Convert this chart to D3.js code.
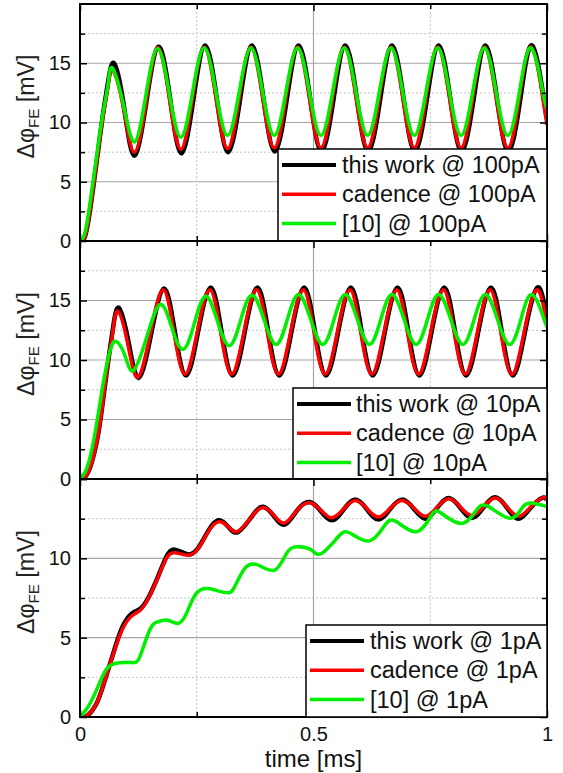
<!DOCTYPE html>
<html>
<head>
<meta charset="utf-8">
<script src="https://cdn.jsdelivr.net/npm/d3@7"></script>
<style>
  html, body { margin: 0; padding: 0; background: #fff; }
  svg { display: block; font-family: Arial, "Liberation Sans", sans-serif; }
</style>
</head>
<body>
<svg id="chart" width="563" height="773"></svg>
<script>
// series are [time in ms, value in mV]
const p1Black = [[0,0],[0.01,0.3],[0.02,2.2],[0.03,5.0],[0.04,8.0],[0.05,10.9],[0.06,13.4],[0.073,15.0],[0.094,11.4],[0.116,7.2],[0.142,11.7],[0.168,16.4],[0.193,12.0],[0.217,7.4],[0.243,12.0],[0.268,16.5],[0.293,12.0],[0.317,7.5],[0.343,12.0],[0.368,16.5],[0.393,12.0],[0.417,7.55],[0.443,12.0],[0.468,16.5],[0.493,12.0],[0.517,7.55],[0.543,12.0],[0.568,16.5],[0.593,12.0],[0.617,7.55],[0.643,12.0],[0.668,16.5],[0.693,12.0],[0.717,7.55],[0.743,12.0],[0.768,16.5],[0.793,12.0],[0.817,7.55],[0.843,12.0],[0.868,16.5],[0.893,12.0],[0.917,7.55],[0.943,12.0],[0.968,16.5],[0.993,12.0],[1.0,10.3]];
const p1Red = [[0,0],[0.01,0.3],[0.02,2.2],[0.03,5.0],[0.04,7.9],[0.05,10.7],[0.06,13.0],[0.07,14.4],[0.093,11.2],[0.116,7.5],[0.141,11.6],[0.166,16.3],[0.191,12.1],[0.216,7.75],[0.241,12.1],[0.266,16.35],[0.291,12.1],[0.316,7.8],[0.341,12.1],[0.366,16.35],[0.391,12.1],[0.416,7.85],[0.441,12.1],[0.466,16.35],[0.491,12.1],[0.516,7.85],[0.541,12.1],[0.566,16.35],[0.591,12.1],[0.616,7.85],[0.641,12.1],[0.666,16.35],[0.691,12.1],[0.716,7.85],[0.741,12.1],[0.766,16.35],[0.791,12.1],[0.816,7.85],[0.841,12.1],[0.866,16.35],[0.891,12.1],[0.916,7.85],[0.941,12.1],[0.966,16.35],[0.991,12.1],[1.0,9.8]];
const p1Green = [[0,0],[0.01,0.6],[0.02,2.8],[0.03,5.6],[0.04,8.4],[0.05,11.0],[0.06,13.2],[0.069,14.6],[0.093,11.5],[0.117,8.35],[0.141,12.3],[0.166,16.25],[0.191,12.5],[0.216,8.75],[0.241,12.55],[0.266,16.3],[0.291,12.6],[0.316,8.9],[0.341,12.6],[0.366,16.3],[0.391,12.6],[0.416,8.9],[0.441,12.6],[0.466,16.3],[0.491,12.6],[0.516,8.9],[0.541,12.6],[0.566,16.3],[0.591,12.6],[0.616,8.9],[0.641,12.6],[0.666,16.3],[0.691,12.6],[0.716,8.9],[0.741,12.6],[0.766,16.3],[0.791,12.6],[0.816,8.9],[0.841,12.6],[0.866,16.3],[0.891,12.6],[0.916,8.9],[0.941,12.6],[0.966,16.3],[0.991,12.6],[1.0,11.2]];

const p2Black = [[0,0],[0.01,0.15],[0.02,0.8],[0.03,2.1],[0.04,4.0],[0.05,6.8],[0.06,9.8],[0.07,12.5],[0.083,14.4],[0.104,11.5],[0.126,8.5],[0.153,12.3],[0.18,16.0],[0.203,12.4],[0.227,8.7],[0.253,12.4],[0.28,16.1],[0.303,12.4],[0.327,8.7],[0.353,12.4],[0.38,16.1],[0.403,12.4],[0.427,8.7],[0.453,12.4],[0.48,16.1],[0.503,12.4],[0.527,8.7],[0.553,12.4],[0.58,16.1],[0.603,12.4],[0.627,8.7],[0.653,12.4],[0.68,16.1],[0.703,12.4],[0.727,8.7],[0.753,12.4],[0.78,16.1],[0.803,12.4],[0.827,8.7],[0.853,12.4],[0.88,16.1],[0.903,12.4],[0.927,8.7],[0.953,12.4],[0.98,16.1],[1.0,13.3]];
const p2Red = [[0,0],[0.01,0.15],[0.02,0.8],[0.03,2.1],[0.04,4.0],[0.05,6.8],[0.06,9.8],[0.07,12.3],[0.081,14.1],[0.102,11.4],[0.124,8.55],[0.151,12.3],[0.178,15.9],[0.201,12.35],[0.225,8.8],[0.251,12.35],[0.278,15.9],[0.301,12.35],[0.325,8.8],[0.351,12.35],[0.378,15.9],[0.401,12.35],[0.425,8.8],[0.451,12.35],[0.478,15.9],[0.501,12.35],[0.525,8.8],[0.551,12.35],[0.578,15.9],[0.601,12.35],[0.625,8.8],[0.651,12.35],[0.678,15.9],[0.701,12.35],[0.725,8.8],[0.751,12.35],[0.778,15.9],[0.801,12.35],[0.825,8.8],[0.851,12.35],[0.878,15.9],[0.901,12.35],[0.925,8.8],[0.951,12.35],[0.978,15.9],[1.0,13.0]];
const p2Green = [[0,0],[0.01,0.5],[0.02,1.6],[0.03,3.4],[0.04,5.7],[0.05,8.1],[0.06,10.1],[0.068,11.2],[0.078,11.55],[0.096,10.4],[0.114,9.1],[0.142,11.8],[0.171,14.65],[0.196,12.8],[0.221,10.9],[0.245,13.1],[0.269,15.35],[0.294,13.3],[0.32,11.2],[0.344,13.35],[0.368,15.45],[0.394,13.4],[0.42,11.3],[0.444,13.4],[0.468,15.5],[0.494,13.4],[0.52,11.3],[0.544,13.4],[0.568,15.5],[0.594,13.4],[0.62,11.3],[0.644,13.4],[0.668,15.5],[0.694,13.4],[0.72,11.3],[0.744,13.4],[0.768,15.5],[0.794,13.4],[0.82,11.3],[0.844,13.4],[0.868,15.5],[0.894,13.4],[0.92,11.3],[0.944,13.4],[0.968,15.5],[0.994,13.4],[1.0,12.8]];

const p3Black = [[0,0],[0.01,0],[0.02,0.2],[0.0385,1.05],[0.06,2.95],[0.078,4.65],[0.092,5.75],[0.11,6.5],[0.128,6.8],[0.146,7.5],[0.167,8.85],[0.185,10.1],[0.203,10.55],[0.231,10.25],[0.253,10.65],[0.274,11.7],[0.296,12.4],[0.317,12.0],[0.338,11.65],[0.367,12.6],[0.392,13.25],[0.417,12.6],[0.44,12.15],[0.467,13.1],[0.492,13.55],[0.515,13.0],[0.539,12.4],[0.564,13.05],[0.589,13.7],[0.614,13.1],[0.639,12.45],[0.664,13.1],[0.689,13.7],[0.714,13.15],[0.739,12.5],[0.764,13.15],[0.789,13.8],[0.814,13.2],[0.839,12.55],[0.864,13.2],[0.889,13.85],[0.914,13.2],[0.939,12.5],[0.964,13.15],[0.989,13.8],[1.0,13.7]];
const p3Red = [[0,0],[0.01,0],[0.02,0.2],[0.0385,1.05],[0.06,2.95],[0.078,4.55],[0.092,5.6],[0.11,6.35],[0.128,6.7],[0.146,7.45],[0.167,8.8],[0.185,10.0],[0.203,10.35],[0.231,10.2],[0.253,10.6],[0.274,11.65],[0.296,12.3],[0.317,12.0],[0.338,11.7],[0.367,12.6],[0.392,13.2],[0.417,12.65],[0.44,12.25],[0.467,13.1],[0.492,13.5],[0.515,13.05],[0.539,12.55],[0.564,13.1],[0.589,13.65],[0.614,13.15],[0.639,12.6],[0.664,13.15],[0.689,13.65],[0.714,13.2],[0.739,12.65],[0.764,13.2],[0.789,13.75],[0.814,13.25],[0.839,12.7],[0.864,13.25],[0.889,13.8],[0.914,13.25],[0.939,12.65],[0.964,13.2],[0.989,13.8],[1.0,13.75]];
const p3Green = [[0,0],[0.017,0.63],[0.035,1.68],[0.053,2.84],[0.074,3.37],[0.11,3.43],[0.128,3.79],[0.149,5.47],[0.167,6.0],[0.188,6.1],[0.21,5.9],[0.228,6.53],[0.249,7.79],[0.274,8.1],[0.295,7.95],[0.317,7.83],[0.331,8.2],[0.353,9.37],[0.381,9.58],[0.417,9.26],[0.442,10.3],[0.463,10.73],[0.494,10.55],[0.517,10.3],[0.553,11.36],[0.578,11.6],[0.62,11.1],[0.653,12.1],[0.678,12.3],[0.721,11.68],[0.753,12.73],[0.774,12.84],[0.817,12.2],[0.849,13.05],[0.875,13.26],[0.921,12.52],[0.949,13.26],[0.971,13.47],[1.0,13.26]];

const legend100 = ['this work @ 100pA', 'cadence @ 100pA', '[10] @ 100pA'];
const legend10 = ['this work @ 10pA', 'cadence @ 10pA', '[10] @ 10pA'];
const legend1 = ['this work @ 1pA', 'cadence @ 1pA', '[10] @ 1pA'];
const seriesColors = ['#000000', '#ff0000', '#00ee00'];
const seriesWidths = [4.5, 3.5, 3.5];

const xTicks = [0, 0.5, 1];
const xMinorTicks = [0.25, 0.75];
const xTitle = 'time [ms]';

const svg = d3.select('#chart');
const left = 80, right = 547;
const x = d3.scaleLinear().domain([0, 1]).range([left, right]);

const panels = [
  { top: 4, bottom: 241, ymax: 20, ticks: [0, 5, 10, 15], minor: [2.5, 7.5, 12.5, 17.5],
    series: [p1Black, p1Red, p1Green], legend: legend100, lx: 278, ly: 149, lineX: 4, textX: 64 },
  { top: 241, bottom: 479, ymax: 20, ticks: [0, 5, 10, 15], minor: [2.5, 7.5, 12.5, 17.5],
    series: [p2Black, p2Red, p2Green], legend: legend10, lx: 293, ly: 388, lineX: 4, textX: 63 },
  { top: 479, bottom: 717, ymax: 15, ticks: [0, 5, 10], minor: [2.5, 7.5, 12.5],
    series: [p3Black, p3Red, p3Green], legend: legend1, lx: 306, ly: 625, lineX: 4, textX: 64 }
];

const clipDefs = svg.append('defs');

panels.forEach((p, pi) => {
  const y = d3.scaleLinear().domain([0, p.ymax]).range([p.bottom, p.top]);
  const g = svg.append('g').attr('class', 'panel');

  clipDefs.append('clipPath').attr('id', 'clip' + pi)
    .append('rect')
    .attr('x', left).attr('y', p.top)
    .attr('width', right - left).attr('height', p.bottom - p.top);

  // grid
  const grid = g.append('g');
  grid.selectAll('line.ymaj').data(p.ticks.filter(d => d > 0)).enter().append('line')
    .attr('x1', left).attr('x2', right)
    .attr('y1', d => y(d)).attr('y2', d => y(d))
    .attr('stroke', '#a6a6a6').attr('stroke-width', 1.2);
  grid.selectAll('line.ymin').data(p.minor).enter().append('line')
    .attr('x1', left).attr('x2', right)
    .attr('y1', d => y(d)).attr('y2', d => y(d))
    .attr('stroke', '#c4c4c4').attr('stroke-width', 1).attr('stroke-dasharray', '2,2');
  grid.append('line')
    .attr('x1', x(0.5)).attr('x2', x(0.5))
    .attr('y1', p.top).attr('y2', p.bottom)
    .attr('stroke', '#a6a6a6').attr('stroke-width', 1.2);
  grid.selectAll('line.xmin').data(xMinorTicks).enter().append('line')
    .attr('x1', d => x(d)).attr('x2', d => x(d))
    .attr('y1', p.top).attr('y2', p.bottom)
    .attr('stroke', '#c4c4c4').attr('stroke-width', 1).attr('stroke-dasharray', '2,2');

  // curves
  const line = d3.line()
    .x(d => x(d[0]))
    .y(d => y(d[1]))
    .curve(d3.curveNatural);

  g.append('g').attr('clip-path', `url(#clip${pi})`)
    .selectAll('path')
    .data(p.series)
    .enter()
    .append('path')
    .attr('d', line)
    .attr('fill', 'none')
    .attr('stroke', (d, i) => seriesColors[i])
    .attr('stroke-width', (d, i) => seriesWidths[i])
    .attr('stroke-linejoin', 'round');

  // inward ticks on all four sides
  const majorY = p.ticks.concat(p.ymax === 20 ? [] : [15]);
  g.append('g').attr('transform', `translate(${left},0)`)
    .call(d3.axisLeft(y).tickValues(majorY).tickSize(-7).tickPadding(9)
      .tickFormat(d => (p.ticks.includes(d) ? d : '')));
  g.append('g').attr('transform', `translate(${left},0)`)
    .call(d3.axisLeft(y).tickValues(p.minor).tickSize(-5).tickFormat(''));
  g.append('g').attr('transform', `translate(${right},0)`)
    .call(d3.axisRight(y).tickValues(majorY).tickSize(-7).tickFormat(''));
  g.append('g').attr('transform', `translate(${right},0)`)
    .call(d3.axisRight(y).tickValues(p.minor).tickSize(-5).tickFormat(''));
  g.append('g').attr('transform', `translate(0,${p.top})`)
    .call(d3.axisTop(x).tickValues(xTicks).tickSize(-7).tickFormat(''));
  g.append('g').attr('transform', `translate(0,${p.top})`)
    .call(d3.axisTop(x).tickValues(xMinorTicks).tickSize(-5).tickFormat(''));
  g.append('g').attr('transform', `translate(0,${p.bottom})`)
    .call(d3.axisBottom(x).tickValues(xTicks).tickSize(-7).tickPadding(10)
      .tickFormat(d => (pi === 2 ? d3.format('')(d) : '')));
  g.append('g').attr('transform', `translate(0,${p.bottom})`)
    .call(d3.axisBottom(x).tickValues(xMinorTicks).tickSize(-5).tickFormat(''));

  g.selectAll('.domain').remove();
  g.selectAll('.tick line').attr('stroke', '#000').attr('stroke-width', 1.5);
  g.selectAll('.tick text')
    .attr('fill', '#111')
    .style('font-size', '20px')
    .style('font-family', 'Arial, "Liberation Sans", sans-serif');

  // frame
  g.append('rect')
    .attr('x', left).attr('y', p.top)
    .attr('width', right - left).attr('height', p.bottom - p.top)
    .attr('fill', 'none').attr('stroke', '#000').attr('stroke-width', 2);

  // y title
  const yt = g.append('text')
    .attr('transform', `translate(34,${(p.top + p.bottom) / 2 - 16}) rotate(-90)`)
    .attr('text-anchor', 'middle')
    .attr('fill', '#222')
    .attr('textLength', 104)
    .attr('lengthAdjust', 'spacingAndGlyphs')
    .style('font-size', '23px');
  yt.append('tspan').text('Δφ');
  yt.append('tspan').attr('dy', 5).style('font-size', '15px').text('FE');
  yt.append('tspan').attr('dy', -5).text(' [mV]');

  // legend
  const lg = g.append('g').attr('transform', `translate(${p.lx},${p.ly})`);
  lg.append('rect')
    .attr('x', 0).attr('y', 0)
    .attr('width', right - p.lx).attr('height', p.bottom - p.ly)
    .attr('fill', '#fff').attr('stroke', '#000').attr('stroke-width', 1.5);
  const rowH = 29.3;
  const rows = lg.selectAll('g.row').data(p.legend).enter().append('g')
    .attr('transform', (d, i) => `translate(0,${16 + i * rowH})`);
  rows.append('line')
    .attr('x1', p.lineX).attr('x2', p.lineX + 54)
    .attr('y1', 0).attr('y2', 0)
    .attr('stroke', (d, i) => seriesColors[i])
    .attr('stroke-width', (d, i) => (i === 0 ? 4 : 3.5));
  rows.append('text')
    .attr('x', p.textX).attr('y', 8)
    .attr('fill', '#111')
    .style('font-size', '23.5px')
    .text(d => d);
});

svg.append('text')
  .attr('x', x(0.5)).attr('y', 767)
  .attr('text-anchor', 'middle')
  .attr('fill', '#111')
  .style('font-size', '24px')
  .text(xTitle);
</script>
</body>
</html>
